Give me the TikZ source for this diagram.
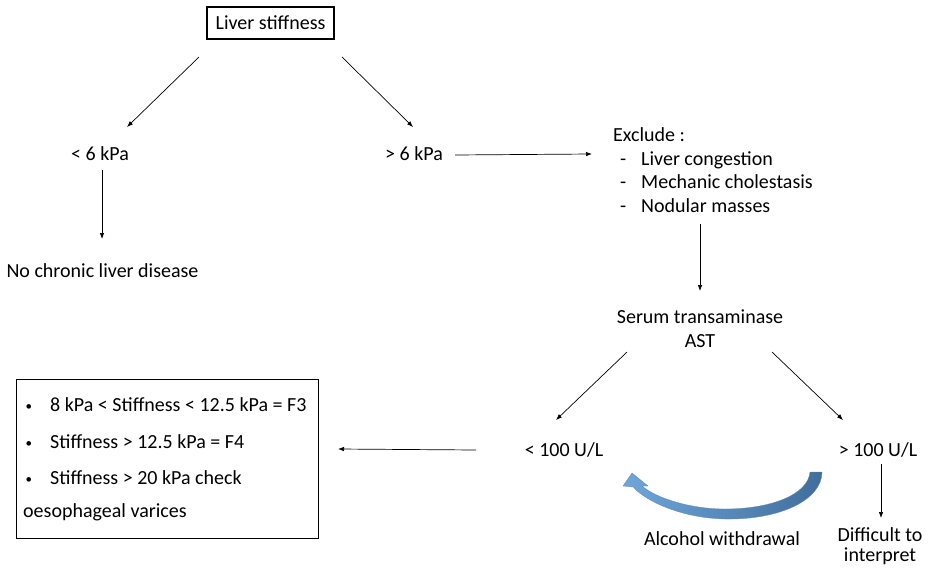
\documentclass[tikz,border=0pt]{standalone}
\usepackage{fontspec}
\setmainfont{Carlito}
\usetikzlibrary{arrows.meta}
\definecolor{bluelight}{HTML}{6FA6DA}
\definecolor{bluedark}{HTML}{3F6E9C}
\newcommand\dashitem[1]{\makebox[28pt][l]{\hspace*{7pt}-}#1}
\newcommand\bulletitem[1]{\makebox[27pt][l]{\hspace*{2.5pt}\raisebox{1pt}{\fontsize{13}{13}\selectfont•}}#1}
\begin{document}
\begin{tikzpicture}[x=1pt,y=-1pt,
  every node/.style={font=\fontsize{20}{24.5}\selectfont, inner sep=0pt},
  lbl/.style={anchor=base},
  lblw/.style={anchor=base west},
  arr/.style={draw=black, line width=0.7pt, -{Latex[length=6pt,width=4.5pt]}},
  boxed/.style={draw=black, line width=1.1pt}]
\useasboundingbox (0,0) rectangle (933,567);
\fill[white] (0,0) rectangle (933,567);

% top box
\node[boxed, minimum width=127pt, minimum height=32pt] (ls) at (270.5,23) {Liver stiffness};

% first split
\node[lbl] (lt6) at (100,160) {< 6 kPa};
\node[lbl] (gt6) at (414,160) {> 6 kPa};
\node[lbl] (nocld) at (102.5,277) {No chronic liver disease};

% exclusion list
\node[lblw] (excl) at (613,141) {Exclude :};
\node[lblw] (ex1) at (613,165) {\dashitem{Liver congestion}};
\node[lblw] (ex2) at (613,188) {\dashitem{Mechanic cholestasis}};
\node[lblw] (ex3) at (613,212) {\dashitem{Nodular masses}};

% transaminase
\node[lbl] (ast1) at (700,323) {Serum transaminase};
\node[lbl] (ast2) at (700,347) {AST};

\node[lbl] (lt100) at (564,456) {< 100 U/L};
\node[lbl] (gt100) at (878,456) {> 100 U/L};
\node[lbl] (diff1) at (880,541) {Difficult to};
\node[lbl] (diff2) at (880,561) {interpret};
\node[lbl] (alc) at (722,545) {Alcohol withdrawal};

% fibrosis box
\node[boxed, anchor=north west, minimum width=302pt, minimum height=159pt] (fib) at (16,379) {};
\node[lblw] (f1) at (23,411) {\bulletitem{8 kPa < Stiffness < 12.5 kPa = F3}};
\node[lblw] (f2) at (23,448) {\bulletitem{Stiffness > 12.5 kPa = F4}};
\node[lblw] (f3) at (23,484) {\bulletitem{Stiffness > 20 kPa check}};
\node[lblw] (f4) at (23,517) {oesophageal varices};

% connector end points
\coordinate (a1s) at (199,57);  \coordinate (a1e) at (127,127);
\coordinate (a2s) at (342,57);  \coordinate (a2e) at (413,127);
\coordinate (a3s) at (102,170); \coordinate (a3e) at (102,239);
\coordinate (a4s) at (455,155); \coordinate (a4e) at (592,154);
\coordinate (a5s) at (700,224); \coordinate (a5e) at (700,291);
\coordinate (a6s) at (627,352); \coordinate (a6e) at (556,420);
\coordinate (a7s) at (772,352); \coordinate (a7e) at (843,420);
\coordinate (a8s) at (476,450); \coordinate (a8e) at (338,449);
\coordinate (a9s) at (881,464); \coordinate (a9e) at (881,518);

\draw[arr] (a1s) -- (a1e);
\draw[arr] (a2s) -- (a2e);
\draw[arr] (a3s) -- (a3e);
\draw[arr] (a4s) -- (a4e);
\draw[arr] (a5s) -- (a5e);
\draw[arr] (a6s) -- (a6e);
\draw[arr] (a7s) -- (a7e);
\draw[arr] (a8s) -- (a8e);
\draw[arr] (a9s) -- (a9e);

% curved block arrow
\shade[left color=bluelight, right color=bluedark, draw=bluedark!80, line width=0.3pt]
  (810,472) -- (822,472)
  .. controls (822,500) and (780,520) .. (725,519)
  .. controls (682,518) and (647,502) .. (633,487)
  -- (623,486) -- (632,473) -- (648,486) -- (642,486)
  .. controls (656,498) and (690,509) .. (725,509)
  .. controls (770,509) and (808,495) .. (810,472) -- cycle;
\end{tikzpicture}
\end{document}
